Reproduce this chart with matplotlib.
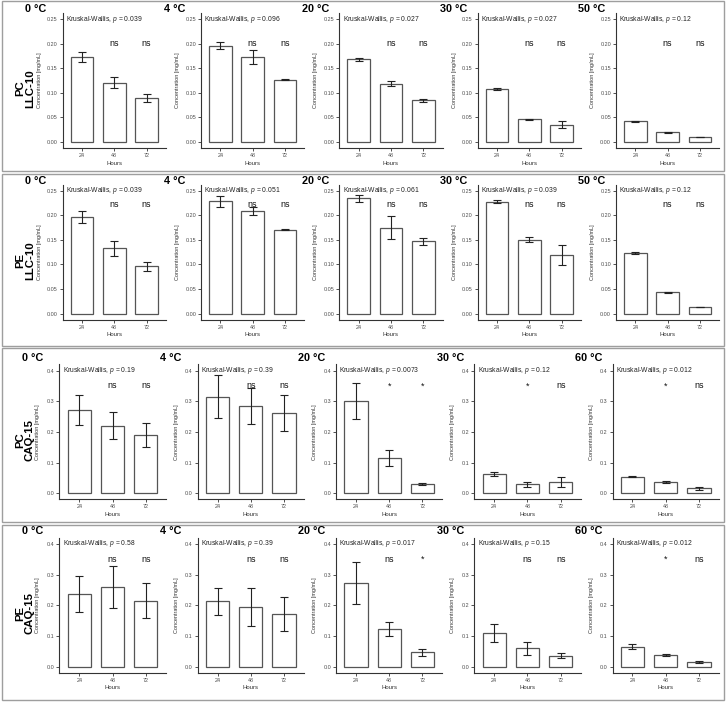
import matplotlib
matplotlib.use("Agg")
import matplotlib.pyplot as plt
from matplotlib.patches import Rectangle

plt.rcParams['font.family'] = ['Liberation Sans', 'DejaVu Sans']
plt.rcParams['mathtext.fontset'] = 'custom'
plt.rcParams['mathtext.rm'] = 'Liberation Sans'
plt.rcParams['mathtext.it'] = 'Liberation Sans:italic'

hours = ["24", "48", "72"]
temps_llc = ["0 °C", "4 °C", "20 °C", "30 °C", "50 °C"]
temps_caq = ["0 °C", "4 °C", "20 °C", "30 °C", "60 °C"]

# PC / LLC-10
pc_llc_mean = [[0.173, 0.121, 0.089], [0.196, 0.173, 0.127], [0.168, 0.119, 0.085],
               [0.107, 0.046, 0.035], [0.042, 0.020, 0.010]]
pc_llc_err = [[0.010, 0.012, 0.008], [0.007, 0.015, 0.001], [0.003, 0.006, 0.003],
              [0.002, 0.001, 0.007], [0.001, 0.001, 0.0]]
pc_llc_p = ["0.039", "0.096", "0.027", "0.027", "0.12"]
pc_llc_sig = [["ns", "ns"], ["ns", "ns"], ["ns", "ns"], ["ns", "ns"], ["ns", "ns"]]

# PE / LLC-10
pe_llc_mean = [[0.197, 0.133, 0.096], [0.229, 0.209, 0.171], [0.235, 0.175, 0.147],
               [0.228, 0.150, 0.119], [0.1235, 0.043, 0.013]]
pe_llc_err = [[0.012, 0.015, 0.009], [0.011, 0.009, 0.001], [0.007, 0.023, 0.007],
              [0.003, 0.005, 0.020], [0.002, 0.001, 0.0]]
pe_llc_p = ["0.039", "0.051", "0.061", "0.039", "0.12"]
pe_llc_sig = [["ns", "ns"], ["ns", "ns"], ["ns", "ns"], ["ns", "ns"], ["ns", "ns"]]

# PC / CAQ-15
pc_caq_mean = [[0.271, 0.220, 0.190], [0.315, 0.285, 0.261], [0.301, 0.114, 0.029],
               [0.062, 0.029, 0.038], [0.054, 0.036, 0.016]]
pc_caq_err = [[0.049, 0.044, 0.038], [0.069, 0.059, 0.058], [0.059, 0.026, 0.003],
              [0.007, 0.007, 0.016], [0.002, 0.003, 0.004]]
pc_caq_p = ["0.19", "0.39", "0.0073", "0.12", "0.012"]
pc_caq_sig = [["ns", "ns"], ["ns", "ns"], ["*", "*"], ["*", "ns"], ["*", "ns"]]

# PE / CAQ-15
pe_caq_mean = [[0.236, 0.259, 0.215], [0.214, 0.194, 0.171], [0.272, 0.122, 0.047],
               [0.109, 0.060, 0.036], [0.065, 0.038, 0.016]]
pe_caq_err = [[0.059, 0.068, 0.058], [0.044, 0.063, 0.056], [0.068, 0.022, 0.012],
              [0.030, 0.021, 0.009], [0.008, 0.002, 0.004]]
pe_caq_p = ["0.58", "0.39", "0.017", "0.15", "0.012"]
pe_caq_sig = [["ns", "ns"], ["ns", "ns"], ["ns", "*"], ["ns", "ns"], ["*", "ns"]]

rows = [
    dict(lab="PC\nLLC-10", temps=temps_llc, mean=pc_llc_mean, err=pc_llc_err, p=pc_llc_p,
         sig=pc_llc_sig, top=13.1, ylim=(-0.0125, 0.2625), ticks=[0, 0.05, 0.10, 0.15, 0.20, 0.25],
         fmt="{:.2f}", sig_y=0.20, kw_y=0.25, left=62.7, w=103.3, ylab_dx=21, frame=(1, 171)),
    dict(lab="PE\nLLC-10", temps=temps_llc, mean=pe_llc_mean, err=pe_llc_err, p=pe_llc_p,
         sig=pe_llc_sig, top=184.7, ylim=(-0.0125, 0.2625), ticks=[0, 0.05, 0.10, 0.15, 0.20, 0.25],
         fmt="{:.2f}", sig_y=0.223, kw_y=0.25, left=62.7, w=103.3, ylab_dx=21, frame=(174, 346)),
    dict(lab="PC\nCAQ-15", temps=temps_caq, mean=pc_caq_mean, err=pc_caq_err, p=pc_caq_p,
         sig=pc_caq_sig, top=364.4, ylim=(-0.02, 0.42), ticks=[0, 0.1, 0.2, 0.3, 0.4],
         fmt="{:.1f}", sig_y=0.35, kw_y=0.40, left=59.3, w=106.5, ylab_dx=19, frame=(348, 522)),
    dict(lab="PE\nCAQ-15", temps=temps_caq, mean=pe_caq_mean, err=pe_caq_err, p=pe_caq_p,
         sig=pe_caq_sig, top=537.8, ylim=(-0.02, 0.42), ticks=[0, 0.1, 0.2, 0.3, 0.4],
         fmt="{:.1f}", sig_y=0.35, kw_y=0.40, left=59.3, w=106.5, ylab_dx=19, frame=(525, 700)),
]

W, H = 726, 703
fig = plt.figure(figsize=(W / 100, H / 100), dpi=100)
fig.patch.set_facecolor("white")

axis_col = "#333333"
tick_col = "#4d4d4d"
ph = 135  # panel height in px
step = 138.3

for r in rows:
    # frame around the row
    f0, f1 = r["frame"]
    fig.patches.append(Rectangle((2 / W, 1 - f1 / H), 722 / W, (f1 - f0) / H,
                                 transform=fig.transFigure, fill=False,
                                 edgecolor="#9e9e9e", lw=1.0))
    # row label
    cy = 1 - (r["top"] + ph / 2 + 8) / H
    fig.text(25 / W, cy, r["lab"], rotation=90, ha="center", va="center",
             multialignment="center", linespacing=0.95, fontsize=8.2, fontweight="bold")

    title_dy = 4 if r["ylim"][1] < 0.3 else 6.5
    for i in range(5):
        x0 = r["left"] + step * i
        ax = fig.add_axes([x0 / W, 1 - (r["top"] + ph) / H, r["w"] / W, ph / H])
        x = list(range(len(hours)))
        ax.bar(x, r["mean"][i], width=0.7, color="white", edgecolor="#555555", lw=0.9, zorder=2)
        ax.errorbar(x, r["mean"][i], yerr=r["err"][i], fmt="none", ecolor="#222222",
                    elinewidth=0.8, capsize=3.2, capthick=0.8, zorder=3)
        ax.set_xlim(-0.6, 2.6)
        ax.set_ylim(*r["ylim"])
        ax.set_xticks(x)
        ax.set_xticklabels(hours)
        ax.set_yticks(r["ticks"])
        ax.set_yticklabels([r["fmt"].format(t) for t in r["ticks"]])
        ax.tick_params(labelsize=3.9, colors=axis_col, labelcolor=tick_col, length=2, width=0.6, pad=1.5)
        for s in ["top", "right"]:
            ax.spines[s].set_visible(False)
        for s in ["left", "bottom"]:
            ax.spines[s].set_color(axis_col)
            ax.spines[s].set_linewidth(0.8)
        ax.set_xlabel("Hours", fontsize=4.3, color="#333333", labelpad=2)
        ax.set_ylabel("Concentration [mg/mL]", fontsize=4.0, color="#333333")
        ax.yaxis.set_label_coords(-r["ylab_dx"] / r["w"], 0.5)
        ax.text(-0.5, r["kw_y"], "Kruskal-Wallis, $\\it{p}$ = " + r["p"][i], fontsize=4.9,
                color="#222222", ha="left", va="center")
        for j, lab in enumerate(r["sig"][i]):
            ax.text(j + 1, r["sig_y"], lab, fontsize=6.5, ha="center", va="center", color="#111111")
        # panel title
        fig.text((x0 - 37.5) / W, 1 - (r["top"] - title_dy) / H, r["temps"][i],
                 fontsize=7.8, fontweight="bold", ha="left", va="center")

fig.savefig("out.png", dpi=100, facecolor="white")
